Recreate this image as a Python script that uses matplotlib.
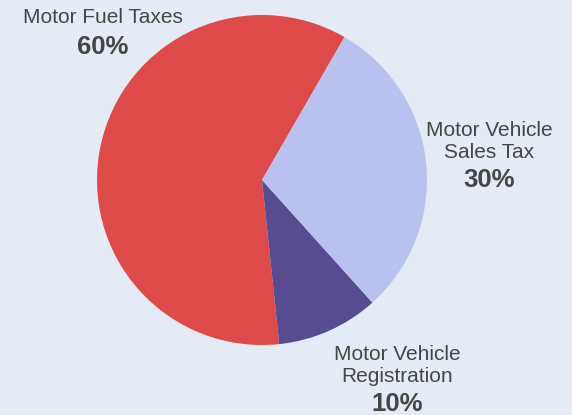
import matplotlib.pyplot as plt

# slice data (counterclockwise from the top-right boundary)
labels = [['Motor Fuel Taxes'], ['Motor Vehicle', 'Registration'], ['Motor Vehicle', 'Sales Tax']]
shares = [60, 10, 30]
colors = ['#DE4A49', '#564C8F', '#B9C1EE']

fig = plt.figure(figsize=(5.72, 4.15), dpi=100)
fig.patch.set_facecolor('#E5EBF5')
ax = fig.add_axes([0, 0, 1, 1])

ax.pie(shares, colors=colors, startangle=60, counterclock=True,
       center=(262, 235), radius=165, frame=True,
       wedgeprops=dict(linewidth=0))
ax.set_xlim(0, 572)
ax.set_ylim(0, 415)
ax.set_aspect('equal')
ax.axis('off')

txt = dict(family='Liberation Sans', color='#454545', ha='center', va='center')
# text anchors in pixels: x, y of first line (from bottom), y of percent
anchors = [(103, 397, 368), (397, 61, 11), (489, 285, 235)]
for lines, share, (x, y0, yp) in zip(labels, shares, anchors):
    for i, line in enumerate(lines):
        ax.text(x, y0 - 23 * i, line, fontsize=15, **txt)
    ax.text(x, yp, f'{share}%', fontsize=18.5, fontweight='bold', **txt)

fig.savefig('out.png', dpi=100, facecolor=fig.get_facecolor())
